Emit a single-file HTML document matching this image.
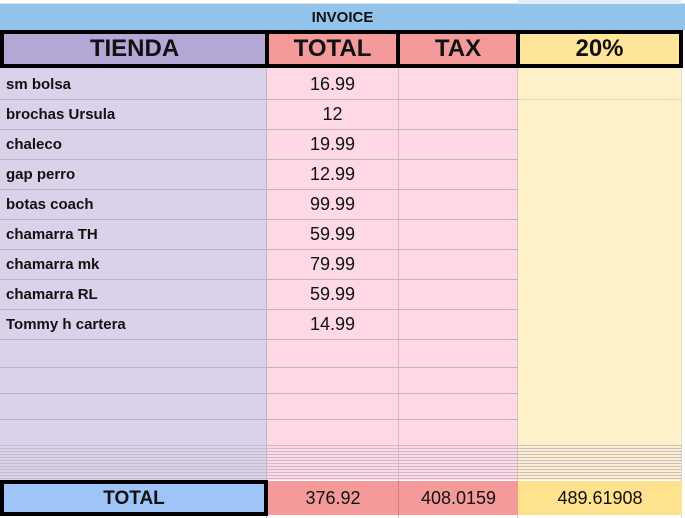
<!DOCTYPE html>
<html><head><style>
body{margin:0;width:685px;height:518px;background:#fff;position:relative;overflow:hidden;font-family:"Liberation Sans",Arial,sans-serif;}
div{position:absolute;box-sizing:border-box;}
.c{display:flex;align-items:center;justify-content:center;}
.l{display:flex;align-items:center;padding-left:6px;font-weight:bold;font-size:15px;color:#111;}
.n{font-size:18px;color:#111;}
.h{font-weight:bold;font-size:24px;color:#111;}
</style></head><body>
<div style="left:0;top:0;width:685px;height:4px;background:#fff;border-bottom:1px solid #ddd"></div>
<div style="left:518px;top:0;width:163px;height:4px;background:#e4ecfa"></div>
<div class="c" style="left:0;top:4px;width:685px;height:26px;background:#93c5ec;font-weight:bold;font-size:15px;color:#111">INVOICE</div>
<div style="left:0;top:68px;width:267px;height:412px;background:#dad2ea"></div>
<div style="left:267px;top:68px;width:251px;height:412px;background:#fed9e5"></div>
<div style="left:518px;top:68px;width:164px;height:412px;background:#fef0c8"></div>
<div style="left:682px;top:68px;width:3px;height:412px;background:#fff"></div>
<div style="left:266px;top:68px;width:1px;height:450px;background:#bbb"></div>
<div style="left:398px;top:68px;width:1px;height:450px;background:#d8b8c0"></div>
<div style="left:517px;top:68px;width:1px;height:450px;background:#d8c8b0"></div>
<div style="left:681px;top:68px;width:1px;height:450px;background:#ddd"></div>
<div id="rows"></div>
<div class="c h" style="left:0;top:30px;width:267px;height:38px;background:#b4a7d6;border:4px solid #000;border-right-width:2px">TIENDA</div>
<div class="c h" style="left:267px;top:30px;width:131px;height:38px;background:#f49a9a;border:4px solid #000;border-left-width:2px;border-right-width:2px">TOTAL</div>
<div class="c h" style="left:398px;top:30px;width:120px;height:38px;background:#f49a9a;border:4px solid #000;border-left-width:2px;border-right-width:2px">TAX</div>
<div class="c h" style="left:518px;top:30px;width:165px;height:38px;background:#ffe599;border:4px solid #000;border-left-width:2px">20%</div>
<div class="c" style="left:0;top:480px;width:268px;height:36px;background:#9fc5f8;border:4px solid #000;font-weight:bold;font-size:19px;color:#111;padding-top:2px">TOTAL</div>
<div class="c n" style="left:268px;top:481px;width:130px;height:34px;background:#f49a9a">376.92</div>
<div class="c n" style="left:398px;top:481px;width:120px;height:34px;background:#f49a9a;border-left:1px solid #d08080">408.0159</div>
<div class="c n" style="left:518px;top:481px;width:164px;height:34px;background:#ffe28e">489.61908</div>
<script>
var names=["sm bolsa","brochas Ursula","chaleco","gap perro","botas coach","chamarra TH","chamarra mk","chamarra RL","Tommy h cartera"];
var vals=["16.99","12","19.99","12.99","99.99","59.99","79.99","59.99","14.99"];
var h="";
for(var i=0;i<9;i++){var t=69+i*30;
h+='<div class="l" style="left:0;top:'+t+'px;width:266px;height:30px">'+names[i]+'</div>';
h+='<div class="c n" style="left:267px;top:'+t+'px;width:131px;height:30px">'+vals[i]+'</div>';}
var ys=[99,129,159,189,219,249,279,309,339,367,393,419];
for(var j=0;j<ys.length;j++){h+='<div style="left:0;top:'+ys[j]+'px;width:518px;height:1px;background:#c0b4c8"></div>';}
h+='<div style="left:518px;top:99px;width:164px;height:1px;background:#e4d4b0"></div>';
for(var y=445;y<479;y+=3){h+='<div style="left:0;top:'+y+'px;width:682px;height:1px;background:#c8bcc8"></div>';}
document.getElementById("rows").outerHTML=h;
</script>
</body></html>
